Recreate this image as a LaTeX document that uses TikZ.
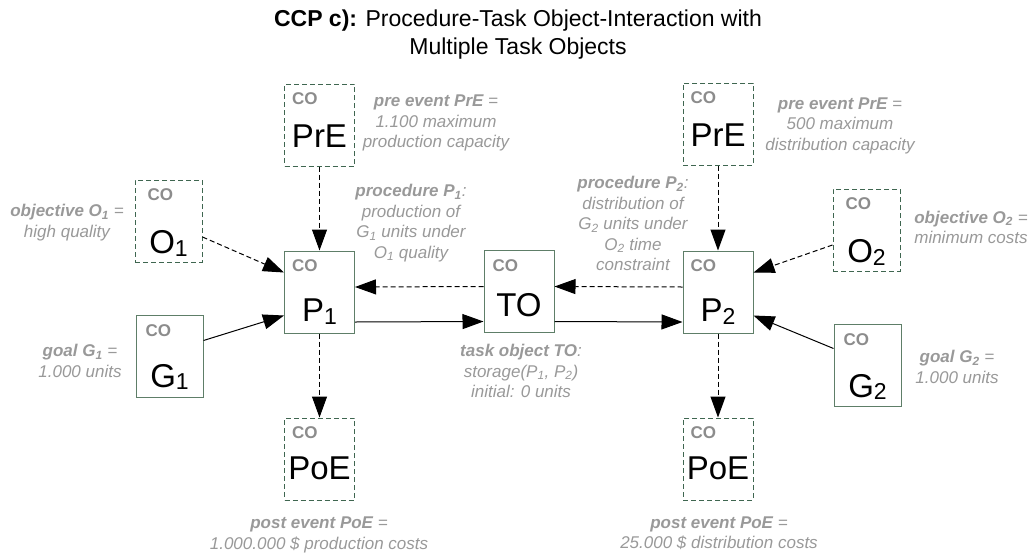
\documentclass[tikz,border=0pt]{standalone}
\usepackage{fontspec}
\setmainfont{Liberation Sans}
\usetikzlibrary{arrows.meta}

\definecolor{boxgreen}{HTML}{5E7E68}
\definecolor{dashgreen}{HTML}{3F6650}
\definecolor{notegray}{HTML}{999999}
\definecolor{tagpgray}{HTML}{8C8C8C}

% subscript for the large object letters
\newcommand\bigsub[1]{\raisebox{-2.5pt}{\fontsize{23}{23}\selectfont #1}}
% subscript inside the grey annotations
\newcommand\lsub[1]{\textsubscript{#1}}

\tikzset{
  cobox/.style={draw=boxgreen, line width=1pt, fill=white, inner sep=0pt,
                minimum width=70pt, minimum height=82pt},
  codash/.style={cobox, draw=dashgreen, dash pattern=on 5pt off 3pt},
  narrow/.style={minimum width=67pt},
  cotag/.style={anchor=base west, inner sep=0pt, text=tagpgray,
                font=\fontsize{17}{17}\selectfont\bfseries},
  coname/.style={anchor=base, inner sep=0pt, font=\fontsize{33}{33}\selectfont},
  note/.style={align=center, inner sep=0pt, text=notegray,
               font=\fontsize{17}{20.5}\selectfont\itshape},
  link/.style={draw=black, line width=1pt, -{Triangle[length=21pt,width=15pt]}},
  dlink/.style={link, dash pattern=on 5pt off 3pt},
}

\begin{document}
\begin{tikzpicture}[x=1pt, y=-1pt]
\useasboundingbox (0,0) rectangle (1032,557);

% title
\node[align=center, inner sep=0pt, font=\fontsize{23}{28.5}\selectfont] (title) at (518,34.5)
  {\textbf{CCP c):} Procedure-Task Object-Interaction with\\Multiple Task Objects};

% concept object boxes
\node[codash] (PrE1) at (319.5,125) {};
\node[codash] (PrE2) at (718,124) {};
\node[codash, narrow] (O1) at (168.5,221) {};
\node[cobox, narrow] (G1) at (169.5,356.5) {};
\node[cobox] (P1) at (319.5,292) {};
\node[cobox] (TO) at (519,291.5) {};
\node[cobox] (P2) at (718,292) {};
\node[codash, narrow] (O2) at (866.5,230) {};
\node[cobox, narrow] (G2) at (867.5,365.5) {};
\node[codash] (PoE1) at (319.5,459) {};
\node[codash] (PoE2) at (718,459) {};

% "CO" tags
\foreach \b/\dx in {PrE1/8,PrE2/8,P1/8,TO/9,P2/8,PoE1/8,PoE2/8,O1/13,O2/13,G1/10,G2/10}
  \node[cotag] (tag\b) at ([xshift=\dx pt, yshift=-21pt]\b.north west) {CO};

% object names
\node[coname] (nPrE1) at ([yshift=-64pt]PrE1.north) {PrE};
\node[coname] (nPrE2) at ([yshift=-64pt]PrE2.north) {PrE};
\node[coname] (nO1) at ([yshift=-74pt]O1.north) {O\bigsub{1}};
\node[coname] (nG1) at ([yshift=-72pt]G1.north) {G\bigsub{1}};
\node[coname] (nP1) at ([yshift=-71pt]P1.north) {P\bigsub{1}};
\node[coname] (nTO) at ([yshift=-66pt]TO.north) {TO};
\node[coname] (nP2) at ([yshift=-71pt]P2.north) {P\bigsub{2}};
\node[coname] (nO2) at ([yshift=-74pt]O2.north) {O\bigsub{2}};
\node[coname] (nG2) at ([yshift=-73pt]G2.north) {G\bigsub{2}};
\node[coname] (nPoE1) at ([yshift=-62pt]PoE1.north) {PoE};
\node[coname] (nPoE2) at ([yshift=-62pt]PoE2.north) {PoE};

% connectors
\draw[dlink] (PrE1.south) -- (P1.north);
\draw[dlink] ([yshift=-16pt]O1.east) -- ([yshift=-22pt]P1.north west);
\draw[link] ([yshift=16pt]G1.east) -- ([yshift=18pt]P1.south west);
\draw[dlink] (P1.south) -- (PoE1.north);
\draw[dlink] ([yshift=5pt]TO.west) -- ([yshift=5pt]P1.east);
\draw[link] ([yshift=-30pt]P1.east) -- ([yshift=-30pt]TO.west);
\draw[dlink] ([yshift=5pt]P2.west) -- ([yshift=5pt]TO.east);
\draw[link] ([yshift=-30pt]TO.east) -- ([yshift=-30pt]P2.west);
\draw[dlink] (PrE2.south) -- (P2.north);
\draw[dlink] ([yshift=-15pt]O2.west) -- ([yshift=-22pt]P2.north east);
\draw[link] ([yshift=17pt]G2.west) -- ([yshift=18pt]P2.south east);
\draw[dlink] (P2.south) -- (PoE2.north);

% annotations
\node[note] (lPrE1) at (436,123) {\textbf{pre event PrE} =\\1.100 maximum\\production capacity};
\node[note] (lPrE2) at (840,125.5) {\textbf{pre event PrE} =\\500 maximum\\distribution capacity};
\node[note] (lO1) at (67,222.5) {\textbf{objective O\lsub{1}} =\\high quality};
\node[note] (lG1) at (80,361) {\textbf{goal G\lsub{1}} =\\1.000 units};
\node[note] (lP1) at (411,223) {\textbf{procedure P\lsub{1}}:\\production of\\G\lsub{1} units under\\O\lsub{1} quality};
\node[note] (lP2) at (633,223.5) {\textbf{procedure P\lsub{2}}:\\distribution of\\G\lsub{2} units under\\O\lsub{2} time\\constraint};
\node[note] (lO2) at (971,227.5) {\textbf{objective O\lsub{2}} =\\minimum costs};
\node[note] (lG2) at (957,367) {\textbf{goal G\lsub{2}} =\\1.000 units};
\node[note] (lTO) at (521,371) {\textbf{task object TO}:\\storage(P\lsub{1}, P\lsub{2})\\initial: 0 units};
\node[note] (lPoE1) at (319,535) {\textbf{post event PoE} =\\1.000.000 \$ production costs};
\node[note] (lPoE2) at (719,533) {\textbf{post event PoE} =\\25.000 \$ distribution costs};
\end{tikzpicture}
\end{document}
